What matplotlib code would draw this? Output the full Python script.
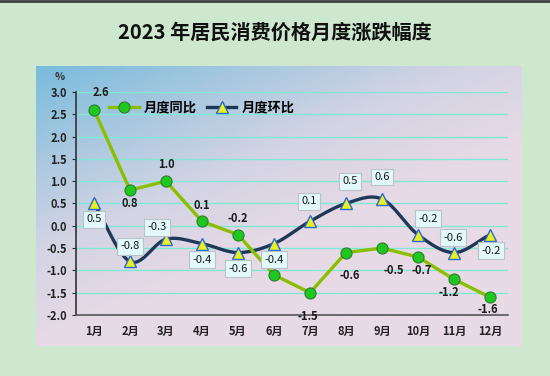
import numpy as np
import matplotlib
matplotlib.use("Agg")
import matplotlib.pyplot as plt
from matplotlib.colors import LinearSegmentedColormap

plt.rcParams['font.family'] = ['Noto Sans CJK SC', 'DejaVu Sans']

months = ["1月", "2月", "3月", "4月", "5月", "6月",
          "7月", "8月", "9月", "10月", "11月", "12月"]
yoy = [2.6, 0.8, 1.0, 0.1, -0.2, -1.1, -1.5, -0.6, -0.5, -0.7, -1.2, -1.6]
mom = [0.5, -0.8, -0.3, -0.4, -0.6, -0.4, 0.1, 0.5, 0.6, -0.2, -0.6, -0.2]
yoy_show = [True, True, True, True, True, False,
            True, True, True, True, True, True]

# label offsets in pixels (dx, dy)
yoy_off = [(7, 17), (0, -13), (0, 17), (0, 16), (0, 16), (0, 0),
           (-2, -24), (4, -23), (12, -22), (4, -13), (-5, -13), (-2, -12)]
mom_off = [(0, -16), (0, 15), (-9, 12), (0, -16), (0, -16), (0, -16),
           (-1, 20), (4, 22), (0, 22), (10, 16), (-1, 15), (1, -16)]


def catmull_rom(x, y, n=30):
    x = np.asarray(x, float)
    y = np.asarray(y, float)
    px = np.concatenate([[2 * x[0] - x[1]], x, [2 * x[-1] - x[-2]]])
    py = np.concatenate([[2 * y[0] - y[1]], y, [2 * y[-1] - y[-2]]])
    xs, ys = [], []
    t = np.linspace(0, 1, n)
    for i in range(1, len(px) - 2):
        for p, out in ((px, xs), (py, ys)):
            p0, p1, p2, p3 = p[i - 1], p[i], p[i + 1], p[i + 2]
            out.append(0.5 * ((2 * p1) + (-p0 + p2) * t
                              + (2 * p0 - 5 * p1 + 4 * p2 - p3) * t ** 2
                              + (-p0 + 3 * p1 - 3 * p2 + p3) * t ** 3))
    return np.concatenate(xs), np.concatenate(ys)


W, H = 550, 376
fig = plt.figure(figsize=(W / 100, H / 100), dpi=100)
fig.patch.set_facecolor('#cde8cf')

# gradient panel
bg = fig.add_axes([36 / W, 1 - 346 / H, 486 / W, 280 / H])
bg.set_axis_off()
gx, gy = np.meshgrid(np.linspace(0, 1, 200), np.linspace(0, 1, 200))
grad = np.clip(0.55 * gx + 0.75 * gy, 0, 1)
cmap = LinearSegmentedColormap.from_list(
    'bgc', ['#79bcdc', '#a8c8e0', '#d4d4e4', '#e6dae6', '#e8dae6'])
bg.imshow(grad, cmap=cmap, aspect='auto', extent=[0, 1, 0, 1],
          origin='upper')

# top border
fig.add_artist(plt.Line2D([0, 1], [1 - 1 / H, 1 - 1 / H],
                          transform=fig.transFigure, color='#404040', lw=2))

fig.text(0.5, 1 - 32 / H, "2023 年居民消费价格月度涨跌幅度",
         ha='center', va='center', fontsize=14.5, fontweight='bold',
         color='#111111')

ax = fig.add_axes([76 / W, 1 - 315 / H, 432 / W, 223 / H])
ax.patch.set_alpha(0)
x = np.arange(1, 13)

ax.set_xlim(0.5, 12.5)
ax.set_ylim(-2.0, 3.0)
ax.set_yticks(np.arange(-2.0, 3.01, 0.5))
ax.set_yticklabels(["%.1f" % v for v in np.arange(-2.0, 3.01, 0.5)])
ax.set_xticks(x)
ax.set_xticklabels(months)
for s in ['top', 'right']:
    ax.spines[s].set_visible(False)
ax.spines['left'].set_color('#333333')
ax.spines['bottom'].set_color('#555555')
ax.spines['left'].set_linewidth(1.2)
ax.spines['bottom'].set_linewidth(1.2)
ax.tick_params(axis='y', length=3, labelsize=8, colors='#333333',
               labelcolor='#222222')
ax.tick_params(axis='x', length=0, labelsize=8, pad=7, labelcolor='#222222')
for lab in ax.get_xticklabels() + ax.get_yticklabels():
    lab.set_fontweight('bold')
for v in np.arange(-1.5, 3.01, 0.5):
    ax.axhline(v, color='#80e8d4', lw=1.0, zorder=1)

ax.plot(x, yoy, color='#8cbe00', lw=2.4, marker='o', markersize=8,
        markerfacecolor='#1ec81e', markeredgecolor='#2e7d32',
        markeredgewidth=0.8, zorder=3, label='月度同比')

sx, sy = catmull_rom(x, mom)
ax.plot(sx, sy, color='#1f3858', lw=2.4, zorder=2)
ax.plot(x, mom, linestyle='none', marker='^', markersize=8,
        markerfacecolor='#e8f020', markeredgecolor='#2a6ad0',
        markeredgewidth=1.0, zorder=4)
ax.plot([], [], color='#1f3858', lw=2.4, marker='^', markersize=8,
        markerfacecolor='#e8f020', markeredgecolor='#2a6ad0',
        label='月度环比')

for i in range(12):
    if yoy_show[i]:
        ax.annotate("%.1f" % yoy[i], (x[i], yoy[i]), xytext=yoy_off[i],
                    textcoords='offset pixels', ha='center', va='center',
                    fontsize=8, fontweight='bold', color='#1a1a1a', zorder=5)
    ax.annotate("%.1f" % mom[i], (x[i], mom[i]), xytext=mom_off[i],
                textcoords='offset pixels', ha='center', va='center',
                fontsize=8, color='#1a1a1a', zorder=6,
                bbox=dict(boxstyle='square,pad=0.3', fc='#e2f8fb',
                          ec='#b8c4c8', lw=0.8))

leg = ax.legend(loc='upper left', bbox_to_anchor=(0.05, 1.015), ncol=2,
                frameon=False, handlelength=2.2,
                columnspacing=0.8, handletextpad=0.4,
                prop={'weight': 'bold', 'size': 9.5})

fig.text(60 / W, 1 - 77 / H, "%", ha='center', va='center', fontsize=7.5,
         fontweight='bold', color='#333333')

fig.savefig("out.png", dpi=100, facecolor=fig.get_facecolor())
